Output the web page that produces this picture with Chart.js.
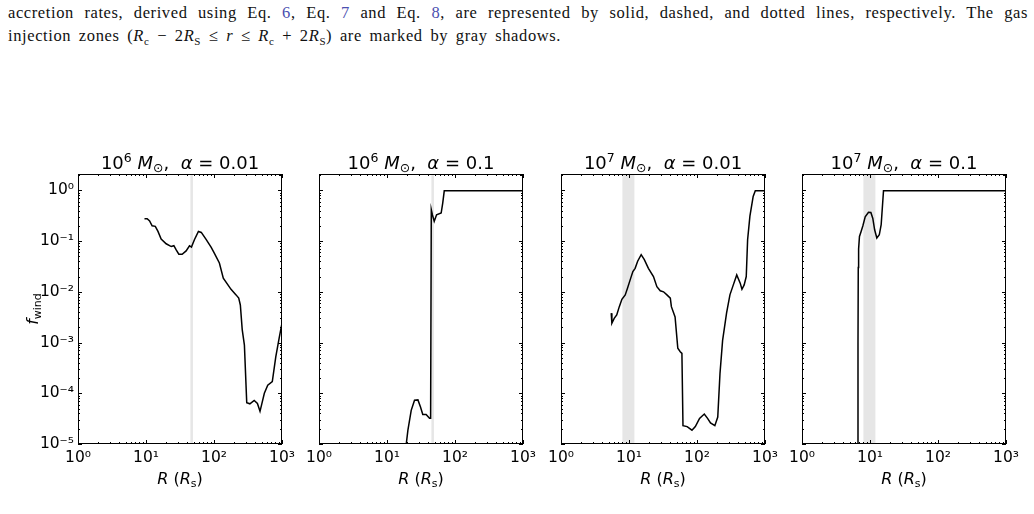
<!DOCTYPE html>
<html>
<head>
<meta charset="utf-8">
<script src="https://cdn.jsdelivr.net/npm/chart.js@4.4.1/dist/chart.umd.min.js"></script>
<style>
  body { margin: 0; background: #fff; width: 1034px; height: 514px; position: relative; overflow: hidden; }
  .cap { position: absolute; left: 8px; width: 1020px; font-family: "Liberation Serif", "DejaVu Serif", serif;
         font-size: 16.5px; letter-spacing: 0.6px; line-height: 20px; color: #111; white-space: nowrap; }
  .cap.l1 { top: 3px; text-align: justify; text-align-last: justify; white-space: normal; }
  .cap.l2 { top: 26px; word-spacing: 3px; }
  .cap sub { font-size: 11px; }
  .ref { color: #4b4fb0; }
  canvas { position: absolute; }
</style>
</head>
<body>
<div class="cap l1">accretion rates, derived using Eq. <span class="ref">6</span>, Eq. <span class="ref">7</span> and Eq. <span class="ref">8</span>, are represented by solid, dashed, and dotted lines, respectively. The gas</div>
<div class="cap l2">injection zones (<i>R</i><sub>c</sub> − 2<i>R</i><sub>S</sub> ≤ <i>r</i> ≤ <i>R</i><sub>c</sub> + 2<i>R</i><sub>S</sub>) are marked by gray shadows.</div>

<canvas id="c0" width="294" height="340" style="left:18px;top:150px"></canvas>
<canvas id="c1" width="294" height="340" style="left:259px;top:150px"></canvas>
<canvas id="c2" width="294" height="340" style="left:501px;top:150px"></canvas>
<canvas id="c3" width="294" height="340" style="left:742px;top:150px"></canvas>

<script>
// panel settings
const massExp = ['6', '6', '7', '7'];
const alphas = ['0.01', '0.1', '0.01', '0.1'];
const zoneLo = [45, 45, 8, 8];
const zoneHi = [49, 49, 12, 12];

const xTicks = [1, 10, 100, 1000];
const yTicks = [1e-5, 1e-4, 1e-3, 1e-2, 1e-1, 1];

// 10^6 Msun, alpha = 0.01
const r1 = [9.5, 10.4, 11.3, 12.3, 13.7, 15, 16.7, 19.8, 23.5, 25.7, 27.8, 30.4, 34, 38.9, 43.6, 46.6, 51.5, 59, 65,
  76.5, 91, 101, 120, 137, 178, 211, 231, 244, 260, 280, 303, 337, 390, 435, 475, 550, 617, 720, 810, 915, 1000];
const f1 = [0.276, 0.276, 0.25, 0.2, 0.195, 0.155, 0.11, 0.0885, 0.078, 0.081, 0.067, 0.055, 0.055, 0.064, 0.081, 0.076, 0.106, 0.155, 0.148,
  0.108, 0.075, 0.058, 0.037, 0.0186, 0.0112, 0.0087, 0.0075, 0.0055, 0.0018, 8.9e-4, 6.5e-5, 6.2e-5, 7.2e-5, 6.3e-5, 4.4e-5, 1e-4, 1.44e-4, 1.7e-4, 5.2e-4, 1.3e-3, 0.0024];

// 10^6 Msun, alpha = 0.1
const r2 = [19.2, 20.3, 22.7, 25.4, 28.5, 31, 33.6, 37.6, 42.2, 43.8, 44.8, 46.5, 49.5, 53.6, 62.6, 66, 69.5, 1000];
const f2 = [1e-5, 1.87e-5, 4.6e-5, 7.3e-5, 7.4e-5, 5.4e-5, 3.8e-5, 3.8e-5, 3.2e-5, 3.2e-5, 0.416, 0.33, 0.245, 0.33, 0.357, 0.56, 0.98, 0.98];

// 10^7 Msun, alpha = 0.01
const r3 = [5.48, 5.6, 6.06, 6.6, 7.2, 7.86, 8.8, 9.5, 10.4, 11.4, 12.3, 13.4, 15.1, 16.8, 19.3, 22.9, 25.7, 28.8, 32.2, 36.1, 40.5,
  42, 47.6, 52.2, 56.7, 60, 62.2, 71.6, 84.3, 94.5, 109, 128, 143, 158, 183, 202, 218, 238, 272, 305, 342, 384, 432, 458, 494, 530,
  555, 600, 670, 720, 1000];
const f3 = [0.0038, 0.0024, 0.003, 0.0035, 0.0051, 0.0071, 0.0087, 0.0118, 0.0172, 0.025, 0.029, 0.04, 0.054, 0.043, 0.029, 0.02, 0.0126, 0.0105, 0.01, 0.0087, 0.0075,
  0.0051, 0.0032, 7.7e-4, 6.6e-4, 6.1e-4, 2.3e-5, 2.2e-5, 1.87e-5, 2.2e-5, 3.2e-5, 3.9e-5, 3.2e-5, 2.6e-5, 2.3e-5, 3.4e-5, 2.5e-4, 0.0011, 0.0038, 0.0087, 0.0137, 0.0215, 0.0148, 0.0112, 0.0137, 0.02,
  0.106, 0.31, 0.76, 0.98, 0.98];

// 10^7 Msun, alpha = 0.1
const r4 = [6.64, 6.66, 6.72, 6.8, 7.0, 7.4, 7.86, 8.5, 9.5, 10.3, 11.0, 11.7, 12.6, 13.7, 14.6, 15.8, 1000];
const f4 = [1e-5, 0.001, 0.03, 0.07, 0.123, 0.155, 0.2, 0.3, 0.37, 0.366, 0.28, 0.167, 0.115, 0.133, 0.21, 0.98, 0.98];

const radii = [r1, r2, r3, r4];
const fwind = [f1, f2, f3, f4];

const FONT = '"DejaVu Sans", sans-serif';
const sup = s => s.replace(/[0-9-]/g, c => ({'-': '⁻', '0': '⁰', '1': '¹', '2': '²', '3': '³', '4': '⁴', '5': '⁵', '6': '⁶', '7': '⁷', '8': '⁸', '9': '⁹'})[c]);

function richWidth(ctx, parts) {
  let w = 0;
  for (const p of parts) {
    ctx.font = (p.it ? 'italic ' : '') + p.sz + 'px ' + FONT;
    w += ctx.measureText(p.t).width;
  }
  return w;
}
function drawRich(ctx, parts, cx, y) {
  let x = cx - richWidth(ctx, parts) / 2;
  ctx.textAlign = 'left';
  ctx.textBaseline = 'alphabetic';
  for (const p of parts) {
    ctx.font = (p.it ? 'italic ' : '') + p.sz + 'px ' + FONT;
    ctx.fillText(p.t, x, y + (p.dy || 0));
    x += ctx.measureText(p.t).width;
  }
}

const decorations = {
  id: 'decorations',
  beforeDatasetsDraw(chart) {
    const { ctx, chartArea: a, scales: { x } } = chart;
    const i = chart.options.panel;
    const x0 = x.getPixelForValue(zoneLo[i]), x1 = x.getPixelForValue(zoneHi[i]);
    ctx.save();
    ctx.fillStyle = '#e6e6e6';
    ctx.fillRect(x0, a.top, x1 - x0, a.bottom - a.top);
    ctx.restore();
  },
  afterDatasetsDraw(chart) {
    const { ctx, chartArea: a, scales: { x, y } } = chart;
    ctx.save();
    ctx.strokeStyle = '#000';
    ctx.lineWidth = 1;
    ctx.strokeRect(a.left + 0.5, a.top + 0.5, a.right - a.left - 1, a.bottom - a.top - 1);
    ctx.beginPath();
    for (let d = 1; d <= 1000; d *= 10) {
      for (let m = 1; m <= 9; m++) {
        const v = d * m;
        if (v > 1000) break;
        const px = Math.round(x.getPixelForValue(v)) + 0.5, len = m === 1 ? 4 : 2;
        ctx.moveTo(px, a.bottom); ctx.lineTo(px, a.bottom - len);
        ctx.moveTo(px, a.top); ctx.lineTo(px, a.top + len);
      }
    }
    for (let e = -5; e <= 0; e++) {
      for (let m = 1; m <= 9; m++) {
        const v = m * Math.pow(10, e);
        if (v > y.max) break;
        const py = Math.round(y.getPixelForValue(v)) + 0.5, len = m === 1 ? 4 : 2;
        ctx.moveTo(a.left, py); ctx.lineTo(a.left + len, py);
        ctx.moveTo(a.right, py); ctx.lineTo(a.right - len, py);
      }
    }
    ctx.stroke();
    ctx.restore();
  },
  afterDraw(chart) {
    const { ctx, chartArea: a } = chart;
    const i = chart.options.panel;
    const cx = (a.left + a.right) / 2;
    ctx.save();
    ctx.fillStyle = '#000';
    drawRich(ctx, [
      { t: '10', sz: 18 }, { t: massExp[i], sz: 12.5, dy: -7.5 }, { t: ' ', sz: 18 },
      { t: 'M', sz: 18, it: 1 }, { t: '⊙', sz: 12.5, dy: 3 }, { t: ',  ', sz: 18 },
      { t: 'α', sz: 18, it: 1 }, { t: ' = ' + alphas[i], sz: 18 }
    ], cx, a.top - 5);
    drawRich(ctx, [
      { t: 'R', sz: 16, it: 1 }, { t: ' (', sz: 16 }, { t: 'R', sz: 16, it: 1 },
      { t: 's', sz: 11, dy: 3 }, { t: ')', sz: 16 }
    ], cx, a.bottom + 40);
    if (i === 0) {
      ctx.translate(a.left - 40, (a.top + a.bottom) / 2);
      ctx.rotate(-Math.PI / 2);
      drawRich(ctx, [{ t: 'f', sz: 16, it: 1 }, { t: 'wind', sz: 11, dy: 3 }], 0, 0);
    }
    ctx.restore();
  }
};

for (let i = 0; i < 4; i++) {
  new Chart(document.getElementById('c' + i), {
    type: 'line',
    data: {
      datasets: [{
        data: radii[i].map((r, k) => ({ x: r, y: fwind[i][k] })),
        borderColor: '#000',
        borderWidth: 1.5,
        pointRadius: 0,
        tension: 0,
        fill: false
      }]
    },
    options: {
      panel: i,
      responsive: false,
      animation: false,
      layout: { padding: { top: 24, right: 30, left: 0, bottom: 0 } },
      plugins: { legend: { display: false }, tooltip: { enabled: false }, title: { display: false } },
      scales: {
        x: {
          type: 'logarithmic', min: 1, max: 1000,
          afterBuildTicks: s => { s.ticks = xTicks.map(v => ({ value: v })); },
          afterFit: s => { s.height = 46; },
          grid: { display: false, drawTicks: false },
          border: { display: false },
          ticks: {
            font: { family: FONT, size: 15.5 }, color: '#000', padding: 5, maxRotation: 0, autoSkip: false,
            callback: v => '10' + sup(String(Math.round(Math.log10(v))))
          }
        },
        y: {
          type: 'logarithmic', min: 1e-5, max: 2.1,
          afterBuildTicks: s => { s.ticks = yTicks.map(v => ({ value: v })); },
          afterFit: s => { s.width = 60; },
          grid: { display: false, drawTicks: false },
          border: { display: false },
          ticks: {
            display: i === 0,
            font: { family: FONT, size: 15.5 }, color: '#000', padding: 4, autoSkip: false,
            callback: v => '10' + sup(String(Math.round(Math.log10(v))))
          }
        }
      }
    },
    plugins: [decorations]
  });
}
</script>
</body>
</html>
